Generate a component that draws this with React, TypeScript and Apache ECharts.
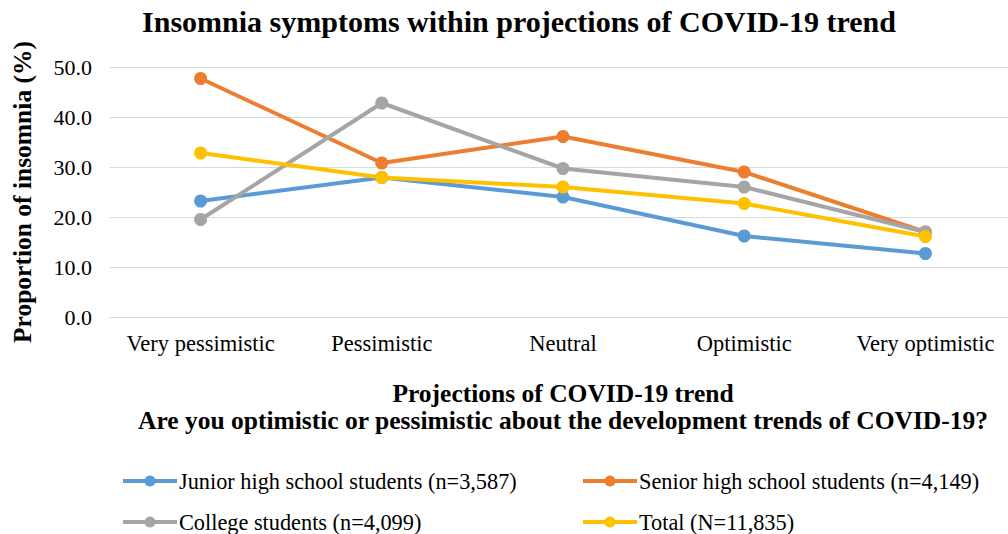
import React, { useEffect, useRef } from "react";
import * as echarts from "echarts";

const categories = ["Very pessimistic", "Pessimistic", "Neutral", "Optimistic", "Very optimistic"];
const juniorValues = [23.2, 27.9, 24.0, 16.2, 12.7];
const seniorValues = [47.7, 30.8, 36.1, 29.0, 17.0];
const collegeValues = [19.5, 42.8, 29.7, 26.0, 17.0];
const totalValues = [32.8, 27.9, 26.0, 22.7, 16.1];
const seriesNames = [
  "Junior high school students (n=3,587)",
  "Senior high school students (n=4,149)",
  "College students (n=4,099)",
  "Total (N=11,835)",
];
const colors = ["#5B9BD5", "#ED7D31", "#A5A5A5", "#FFC000"];

const FONT = "'Liberation Serif', 'Times New Roman', serif";

export default function App() {
  const ref = useRef<HTMLDivElement>(null);
  useEffect(() => {
    if (!ref.current) return;
    const chart = echarts.init(ref.current, null, { renderer: "svg" });
    const values = [juniorValues, seniorValues, collegeValues, totalValues];
    const legendPos = [
      { left: 121, top: 470 },
      { left: 581, top: 470 },
      { left: 121, top: 511 },
      { left: 581, top: 511 },
    ];
    chart.setOption({
      animation: false,
      textStyle: { fontFamily: FONT },
      title: {
        text: "Insomnia symptoms within projections of COVID-19 trend",
        left: 514,
        textAlign: "center",
        top: 1,
        textStyle: { fontFamily: FONT, fontSize: 30, fontWeight: "bold", color: "#000" },
      },
      legend: seriesNames.map((name, i) => ({
        data: [name],
        left: legendPos[i].left,
        top: legendPos[i].top,
        padding: 0,
        itemWidth: 54,
        itemHeight: 14,
        itemGap: 0,
        lineStyle: { width: 4 },
        textStyle: { fontFamily: FONT, fontSize: 22.3, color: "#000", padding: [0, 0, 0, -3] },
      })),
      grid: { left: 110, right: -8, top: 67, bottom: 217, containLabel: false, outerBoundsMode: "none" },
      xAxis: {
        type: "category",
        data: categories,
        boundaryGap: true,
        axisLine: { show: true, lineStyle: { color: "#d9d9d9", width: 1 } },
        axisTick: { show: false },
        axisLabel: { fontFamily: FONT, fontSize: 22.5, color: "#000", margin: 15, interval: 0 },
        name: "Projections of COVID-19 trend\nAre you optimistic or pessimistic about the development trends of COVID-19?",
        nameLocation: "middle",
        nameGap: 63,
        nameTextStyle: { fontFamily: FONT, fontSize: 25.5, fontWeight: "bold", color: "#000", lineHeight: 27, verticalAlign: "top" },
      },
      yAxis: {
        type: "value",
        min: 0,
        max: 50,
        interval: 10,
        axisLine: { show: false },
        axisTick: { show: false },
        splitLine: { lineStyle: { color: "#d9d9d9", width: 1 } },
        axisLabel: { fontFamily: FONT, fontSize: 22, color: "#000", margin: 18, formatter: (v: number) => v.toFixed(1) },
        name: "Proportion of insomnia (%)",
        nameLocation: "middle",
        nameGap: 75,
        nameTextStyle: { fontFamily: FONT, fontSize: 25.5, fontWeight: "bold", color: "#000" },
      },
      series: seriesNames.map((name, i) => ({
        name,
        type: "line",
        data: values[i],
        symbol: "circle",
        symbolSize: 13,
        lineStyle: { width: 4, color: colors[i] },
        itemStyle: { color: colors[i] },
      })),
    });
    return () => chart.dispose();
  }, []);
  return <div ref={ref} style={{ width: 1008, height: 534, position: "absolute", left: 0, top: 0 }} />;
}
